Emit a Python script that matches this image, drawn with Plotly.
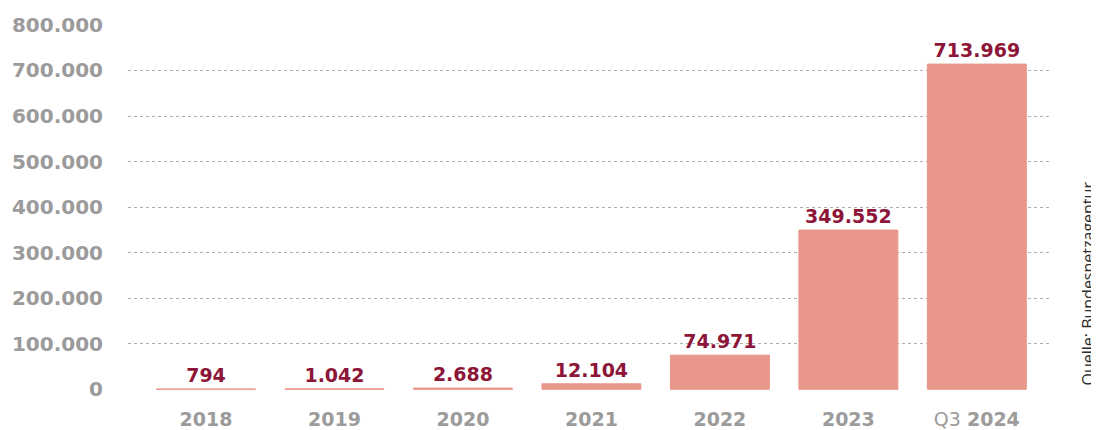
import plotly.graph_objects as go

categories = ["2018", "2019", "2020", "2021", "2022", "2023", "Q3 2024"]
tick_labels = ["<b>2018</b>", "<b>2019</b>", "<b>2020</b>", "<b>2021</b>", "<b>2022</b>", "<b>2023</b>", "Q3 <b>2024</b>"]
values = [794, 1042, 2688, 12104, 74971, 349552, 713969]
value_labels = ["794", "1.042", "2.688", "12.104", "74.971", "349.552", "713.969"]
y_ticks = [0, 100000, 200000, 300000, 400000, 500000, 600000, 700000, 800000]
y_tick_labels = ["0", "100.000", "200.000", "300.000", "400.000", "500.000", "600.000", "700.000", "800.000"]
source = "Quelle: Bundesnetzagentur"

BAR = "#E9978A"
LABEL = "#8C1538"
GREY = "#9B9B9B"
FONT = "DejaVu Sans"

# page has an 8px body margin, so the figure is drawn 8px smaller and the
# plot area lands at page x 128..1052, y 25..389
W, H = 1091, 422
Y_MIN, Y_MAX = -1500, 802000
px_per = 364 / 800000
top = 17 - (Y_MAX - 800000) * px_per
bottom_px = 381 + (0 - Y_MIN) * px_per

fig = go.Figure()
fig.add_trace(go.Bar(
    x=list(range(len(categories))),
    y=values,
    marker=dict(color=BAR, line=dict(color=BAR, width=1)),
    text=[f"<b>{t}</b>" for t in value_labels],
    textposition="outside",
    textfont=dict(family=FONT, size=19, color=LABEL),
    cliponaxis=False,
    hoverinfo="skip",
))

fig.update_layout(
    width=W, height=H,
    margin=dict(l=120, r=47, t=round(top), b=round(H - bottom_px)),
    paper_bgcolor="white", plot_bgcolor="white",
    bargap=0.23,
    showlegend=False,
    xaxis=dict(
        range=[-0.607, 6.585],
        tickmode="array", tickvals=list(range(len(categories))), ticktext=tick_labels,
        tickfont=dict(family=FONT, size=19, color=GREY),
        showgrid=False, zeroline=False, showline=False, ticks="",
        ticklabelstandoff=16, automargin=False,
    ),
    yaxis=dict(
        range=[Y_MIN, Y_MAX],
        tickmode="array", tickvals=y_ticks, ticktext=[f"<b>{t}</b>" for t in y_tick_labels],
        tickfont=dict(family=FONT, size=20, color=GREY),
        showgrid=True, gridcolor="#B0B0B0", griddash="dot", gridwidth=1,
        zeroline=False, showline=False, ticks="",
        ticklabelstandoff=24, automargin=False,
    ),
    annotations=[dict(
        text=source, textangle=-90,
        xref="paper", yref="paper", x=1.039, y=0.291,
        xanchor="center", yanchor="middle", showarrow=False,
        font=dict(family="Open Sans", size=16, color="#2B2B2B"),
    )],
)

fig.write_html("out.html")
